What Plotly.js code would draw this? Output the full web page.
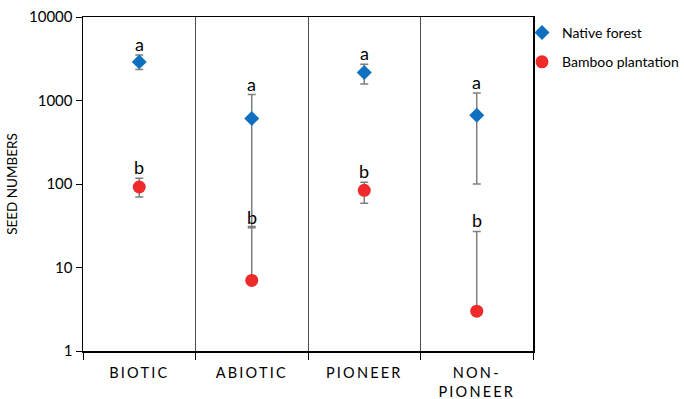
<!DOCTYPE html>
<html>
<head>
<meta charset="utf-8">
<script src="https://cdn.plot.ly/plotly-3.0.1.min.js"></script>
<style>
  body { margin: 0; background: #fff; }
  #chart { width: 684px; height: 399px; }
  .xtick text { letter-spacing: 2.2px; }
</style>
</head>
<body>
<div id="chart"></div>
<script>
// Seed numbers by dispersal / successional group
const categories = ["BIOTIC", "ABIOTIC", "PIONEER", "NON-<br>PIONEER"];

const nativeMean  = [2900, 610, 2160, 665];
const nativeHigh  = [3500, 1180, 2720, 1230];
const nativeLow   = [2350, 31, 1580, 100];
const nativeLetters = ["a", "a", "a", "a"];

const bambooMean  = [92, 7, 84, 3];
const bambooHigh  = [117, 30, 105, 27];
const bambooLow   = [70, 7, 59, 3];
const bambooLetters = ["b", "b", "b", "b"];

const yTicks = [1, 10, 100, 1000, 10000];

const font = "Lato, 'Open Sans', sans-serif";
const barColor = "#7f7f7f";

function errs(mean, hi, lo) {
  return {
    type: "data", symmetric: false,
    array: mean.map((m, i) => hi[i] - m),
    arrayminus: mean.map((m, i) => m - lo[i]),
    color: barColor, thickness: 1.5, width: 4
  };
}

const traces = [
  {
    type: "scatter", mode: "markers", name: "Native forest", legendgroup: "native",
    x: categories, y: nativeMean,
    marker: { symbol: "diamond", size: 11.5, color: "#0F70C0" },
    error_y: errs(nativeMean, nativeHigh, nativeLow)
  },
  {
    type: "scatter", mode: "markers", name: "Bamboo plantation", legendgroup: "bamboo",
    x: categories, y: bambooMean,
    marker: { symbol: "circle", size: 13, color: "#EE2A2A" },
    error_y: errs(bambooMean, bambooHigh, bambooLow)
  }
];

// significance letters above each upper whisker
const annotations = [];
categories.forEach((c, i) => {
  annotations.push({ x: c, y: Math.log10(nativeHigh[i]), text: nativeLetters[i],
    showarrow: false, yanchor: "middle", yshift: 11, font: { family: font, size: 18, color: "#000" } });
  annotations.push({ x: c, y: Math.log10(bambooHigh[i]), text: bambooLetters[i],
    showarrow: false, yanchor: "middle", yshift: 11, font: { family: font, size: 18, color: "#000" } });
});

// plot box spans 83..533 px; legend sits in the space to its right
const plotRight = 533, marginL = 83, marginR = 0;
const paperW = 684 - marginL - marginR;

const layout = {
  width: 684, height: 399,
  margin: { l: marginL, r: marginR, t: 17, b: 48 },
  paper_bgcolor: "#fff", plot_bgcolor: "#fff",
  font: { family: font, size: 14, color: "#000" },
  showlegend: true,
  legend: { x: 1.0, xanchor: "right", y: 1.0, yanchor: "top",
    font: { family: font, size: 14, color: "#000" }, itemwidth: 30,
    tracegroupgap: 8, bgcolor: "rgba(0,0,0,0)" },
  xaxis: {
    type: "category", range: [-0.5, 3.5],
    domain: [0, (plotRight - marginL) / paperW],
    tickson: "boundaries", ticks: "outside", ticklen: 7, tickcolor: "#000",
    showgrid: true, gridcolor: "#4d4d4d", gridwidth: 1,
    showline: true, linecolor: "#000", linewidth: 1.5, mirror: true,
    tickfont: { family: font, size: 14.5, color: "#000" },
    ticklabelstandoff: 8,
    zeroline: false, fixedrange: true
  },
  yaxis: {
    type: "log", range: [0, 4],
    tickvals: yTicks, ticktext: yTicks.map(String),
    ticks: "outside", ticklen: 6, tickcolor: "#000",
    showgrid: false, zeroline: false,
    showline: true, linecolor: "#000", linewidth: 1.5, mirror: true,
    tickfont: { family: font, size: 15, color: "#000" },
    title: { text: "SEED NUMBERS", font: { family: font, size: 13.5, color: "#000" }, standoff: 8 },
    fixedrange: true
  },
  annotations: annotations
};

Plotly.newPlot("chart", traces, layout, { displayModeBar: false, staticPlot: true });
</script>
</body>
</html>
